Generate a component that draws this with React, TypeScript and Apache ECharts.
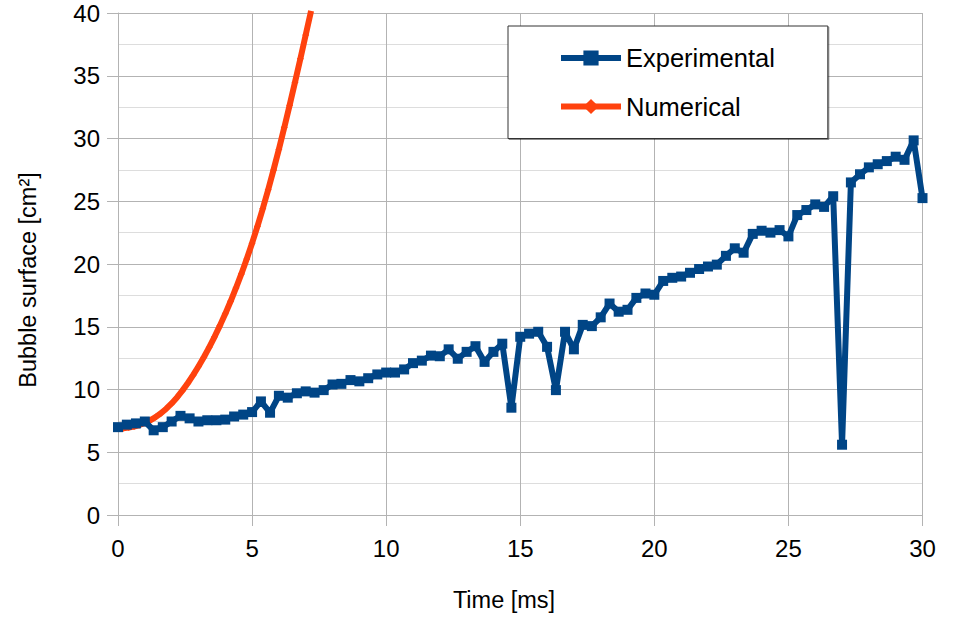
import React, { useEffect, useRef } from "react";
import * as echarts from "echarts";

const expTime = [
  0, 0.33, 0.67, 1, 1.33, 1.67, 2, 2.33, 2.67, 3,
  3.33, 3.67, 4, 4.33, 4.67, 5, 5.33, 5.67, 6, 6.33,
  6.67, 7, 7.33, 7.67, 8, 8.33, 8.67, 9, 9.33, 9.67,
  10, 10.33, 10.67, 11, 11.33, 11.67, 12, 12.33, 12.67, 13,
  13.33, 13.67, 14, 14.33, 14.67, 15, 15.33, 15.67, 16, 16.33,
  16.67, 17, 17.33, 17.67, 18, 18.33, 18.67, 19, 19.33, 19.67,
  20, 20.33, 20.67, 21, 21.33, 21.67, 22, 22.33, 22.67, 23,
  23.33, 23.67, 24, 24.33, 24.67, 25, 25.33, 25.67, 26, 26.33,
  26.67, 27, 27.33, 27.67, 28, 28.33, 28.67, 29, 29.33, 29.67,
  30,
];

const expSurface = [
  7.0, 7.2, 7.3, 7.45, 6.75, 7.0, 7.45, 7.9, 7.7, 7.45,
  7.55, 7.55, 7.6, 7.85, 8.0, 8.2, 9.05, 8.15, 9.5, 9.35,
  9.7, 9.85, 9.75, 9.95, 10.4, 10.45, 10.75, 10.65, 10.9, 11.2,
  11.35, 11.35, 11.6, 12.1, 12.3, 12.7, 12.65, 13.2, 12.45, 13.0,
  13.45, 12.2, 13.0, 13.65, 8.55, 14.2, 14.45, 14.6, 13.4, 9.95,
  14.6, 13.2, 15.15, 15.05, 15.75, 16.85, 16.2, 16.35, 17.3, 17.65,
  17.55, 18.65, 18.9, 19.0, 19.3, 19.6, 19.8, 19.95, 20.65, 21.25,
  20.9, 22.4, 22.65, 22.5, 22.7, 22.2, 23.9, 24.3, 24.75, 24.55,
  25.4, 5.6, 26.5, 27.15, 27.7, 27.95, 28.2, 28.55, 28.3, 29.85,
  25.25,
];

const numTime = [
  0, 0.2, 0.4, 0.6, 0.8, 1.0, 1.2, 1.4, 1.6, 1.8,
  2.0, 2.2, 2.4, 2.6, 2.8, 3.0, 3.2, 3.4, 3.6, 3.8,
  4.0, 4.2, 4.4, 4.6, 4.8, 5.0, 5.2, 5.4, 5.6, 5.8,
  6.0, 6.2, 6.4, 6.6, 6.8, 7.0, 7.2,
];

const numSurface = [
  6.9, 6.92, 6.97, 7.05, 7.17, 7.33, 7.54, 7.8, 8.11, 8.47,
  8.89, 9.37, 9.91, 10.5, 11.14, 11.83, 12.57, 13.36, 14.2, 15.09,
  16.03, 17.03, 18.09, 19.21, 20.4, 21.66, 23.0, 24.42, 25.92, 27.5,
  29.15, 30.87, 32.65, 34.48, 36.35, 38.25, 40.17,
];

const seriesNames = ["Experimental", "Numerical"];
const xTitle = "Time [ms]";
const yTitle = "Bubble surface [cm²]";

const FONT = "Liberation Sans, Arial, sans-serif";

export default function App() {
  const ref = useRef<HTMLDivElement>(null);

  useEffect(() => {
    if (!ref.current) return;
    const chart = echarts.init(ref.current, null, { renderer: "svg" });
    const expData = expTime.map((t, i) => [t, expSurface[i]]);
    const numData = numTime.map((t, i) => [t, numSurface[i]]);
    chart.setOption({
      animation: false,
      backgroundColor: "#ffffff",
      textStyle: { fontFamily: FONT },
      grid: { left: 118, right: 30.5, top: 13, bottom: 105, containLabel: false },
      xAxis: {
        type: "value",
        min: 0,
        max: 30,
        interval: 5,
        axisLine: { show: true, lineStyle: { color: "#b3b3b3", width: 1 } },
        axisTick: { show: true, length: 11, lineStyle: { color: "#b3b3b3" } },
        axisLabel: { color: "#000", fontSize: 24, margin: 21, fontFamily: FONT },
        splitLine: { show: true, lineStyle: { color: "#b3b3b3", width: 1 } },
      },
      yAxis: {
        type: "value",
        min: 0,
        max: 40,
        interval: 5,
        axisLine: { show: true, lineStyle: { color: "#b3b3b3", width: 1 } },
        axisTick: { show: true, length: 11, lineStyle: { color: "#b3b3b3" } },
        axisLabel: { color: "#000", fontSize: 24, margin: 18, fontFamily: FONT },
        splitLine: { show: true, lineStyle: { color: "#b3b3b3", width: 1 } },
        minorTick: { show: false, splitNumber: 2 },
        minorSplitLine: { show: true, lineStyle: { color: "#dddddd", width: 1 } },
      },
      legend: {
        show: true,
        data: seriesNames,
        orient: "vertical",
        left: 508,
        top: 26,
        padding: [19, 53, 19, 50],
        itemWidth: 60,
        itemHeight: 19,
        itemGap: 22.5,
        backgroundColor: "#ffffff",
        borderColor: "#333333",
        borderWidth: 1,
        shadowColor: "rgba(0,0,0,0.45)",
        shadowOffsetX: 1,
        shadowOffsetY: 1,
        shadowBlur: 0,
        lineStyle: { width: 6 },
        textStyle: { color: "#000", fontSize: 25.5, fontFamily: FONT },
      },
      graphic: [
        {
          type: "text",
          x: 504,
          y: 600,
          style: {
            text: xTitle,
            fill: "#000",
            font: `23.5px ${FONT}`,
            align: "center",
            verticalAlign: "middle",
          },
        },
        {
          type: "text",
          x: 28,
          y: 280,
          rotation: Math.PI / 2,
          style: {
            text: yTitle,
            fill: "#000",
            font: `23.5px ${FONT}`,
            align: "center",
            verticalAlign: "middle",
          },
        },
      ],
      series: [
        {
          name: seriesNames[1],
          type: "line",
          data: numData,
          z: 2,
          symbol: "diamond",
          symbolSize: 7,
          showAllSymbol: true,
          lineStyle: { color: "#ff420e", width: 6 },
          itemStyle: { color: "#ff420e" },
          clip: true,
        },
        {
          name: seriesNames[0],
          type: "line",
          data: expData,
          z: 3,
          symbol: "rect",
          symbolSize: 10,
          showAllSymbol: true,
          lineStyle: { color: "#004586", width: 6 },
          itemStyle: { color: "#004586" },
          clip: true,
        },
      ],
    });
    return () => chart.dispose();
  }, []);

  return (
    <div
      ref={ref}
      style={{ position: "fixed", left: 0, top: 0, width: 953, height: 620 }}
    />
  );
}
